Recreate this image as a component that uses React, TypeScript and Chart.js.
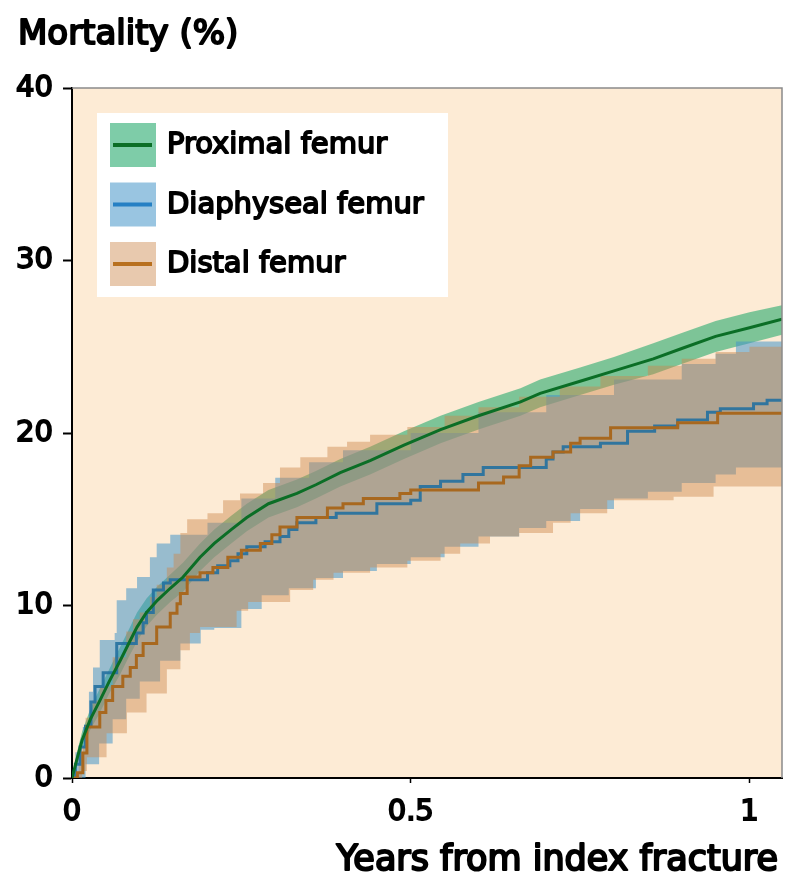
import React, { useEffect, useRef } from "react";
import { Chart, registerables } from "chart.js";

Chart.register(...registerables);

const FONT = "'DejaVu Sans', 'Liberation Sans', sans-serif";

// ---- axis / labels ----
const xTicks = [0, 0.5, 1];
const yTicks = [0, 10, 20, 30, 40];
const xMax = 1.048;
const yTitle = "Mortality (%)";
const xTitle = "Years from index fracture";
const seriesNames = ["Proximal femur", "Diaphyseal femur", "Distal femur"];

// ---- Proximal femur (green) ----
const proxT = [0, 0.008, 0.015, 0.027, 0.04, 0.055, 0.071, 0.085, 0.096, 0.11, 0.126, 0.145, 0.164, 0.189, 0.21, 0.235, 0.258, 0.29, 0.332, 0.36, 0.396, 0.44, 0.49, 0.544, 0.6, 0.662, 0.691, 0.75, 0.8, 0.858, 0.9, 0.95, 1.0, 1.048];
const proxMean = [0, 1.2, 2.2, 3.4, 4.4, 5.6, 6.8, 7.9, 8.75, 9.6, 10.3, 11.0, 11.65, 12.8, 13.6, 14.4, 15.1, 15.9, 16.5, 17.0, 17.7, 18.4, 19.3, 20.2, 21.0, 21.8, 22.3, 23.0, 23.6, 24.3, 24.9, 25.6, 26.1, 26.6];
const proxUpper = [0, 1.6, 2.7, 4.0, 5.1, 6.3, 7.6, 8.7, 9.6, 10.4, 11.1, 11.8, 12.5, 13.6, 14.4, 15.2, 15.9, 16.7, 17.3, 17.8, 18.5, 19.2, 20.1, 21.0, 21.8, 22.6, 23.1, 23.8, 24.4, 25.2, 25.8, 26.5, 27.0, 27.4];
const proxLower = [0, 0.8, 1.7, 2.8, 3.7, 4.9, 6.0, 7.1, 7.9, 8.8, 9.5, 10.2, 10.8, 12.0, 12.8, 13.6, 14.3, 15.1, 15.7, 16.2, 16.9, 17.6, 18.5, 19.4, 20.2, 21.0, 21.5, 22.2, 22.8, 23.4, 24.0, 24.7, 25.2, 25.7];

// ---- Diaphyseal femur (blue) ----
const diaT = [0, 0.005, 0.012, 0.02, 0.028, 0.034, 0.046, 0.066, 0.095, 0.105, 0.11, 0.12, 0.135, 0.145, 0.2, 0.215, 0.233, 0.245, 0.258, 0.285, 0.307, 0.32, 0.332, 0.36, 0.39, 0.45, 0.5, 0.514, 0.544, 0.577, 0.607, 0.7, 0.71, 0.725, 0.78, 0.82, 0.86, 0.894, 0.938, 0.957, 1.006, 1.026, 1.048];
const diaMean = [0, 0.8, 1.8, 3.0, 4.4, 5.3, 6.1, 7.8, 8.4, 9.0, 9.6, 10.9, 11.3, 11.5, 11.9, 12.3, 12.6, 13.0, 13.4, 13.7, 14.0, 14.4, 14.8, 15.1, 15.35, 15.9, 16.1, 16.9, 17.2, 17.6, 18.0, 18.5, 18.9, 19.2, 19.4, 20.1, 20.4, 20.75, 21.2, 21.4, 21.7, 21.9, 21.9];
const diaUpT = [0, 0.005, 0.016, 0.025, 0.031, 0.041, 0.063, 0.066, 0.08, 0.096, 0.115, 0.125, 0.145, 0.2, 0.25, 0.3, 0.35, 0.4, 0.5, 0.6, 0.7, 0.8, 0.9, 0.95, 0.98, 1.048];
const diaUpper = [0, 1.5, 2.95, 5.0, 6.4, 8.0, 8.4, 10.3, 11.0, 11.65, 12.8, 13.6, 14.1, 14.8, 16.2, 17.4, 18.3, 19.0, 20.0, 21.2, 22.2, 23.1, 24.0, 24.6, 25.3, 25.4];
const diaLoT = [0, 0.02, 0.04, 0.06, 0.08, 0.1, 0.13, 0.16, 0.19, 0.21, 0.25, 0.28, 0.32, 0.36, 0.4, 0.45, 0.5, 0.55, 0.6, 0.66, 0.7, 0.75, 0.8, 0.85, 0.9, 0.95, 0.98, 1.048];
const diaLower = [0, 0.8, 2.0, 3.4, 4.6, 5.6, 6.8, 7.8, 8.6, 8.7, 9.8, 10.6, 11.0, 11.6, 12.0, 12.4, 12.8, 13.4, 14.0, 14.5, 14.9, 15.6, 16.2, 16.6, 17.1, 17.6, 18.0, 18.0];

// ---- Distal femur (orange) ----
const distT = [0, 0.008, 0.016, 0.022, 0.041, 0.05, 0.06, 0.075, 0.086, 0.095, 0.105, 0.125, 0.145, 0.155, 0.16, 0.17, 0.189, 0.208, 0.23, 0.25, 0.278, 0.295, 0.307, 0.332, 0.377, 0.4, 0.43, 0.484, 0.5, 0.6, 0.637, 0.66, 0.677, 0.71, 0.736, 0.75, 0.795, 0.894, 0.953, 1.048];
const distMean = [0, 0.3, 1.45, 2.95, 3.8, 4.5, 5.3, 5.9, 6.4, 7.1, 7.8, 8.75, 9.55, 10.1, 10.7, 11.65, 11.9, 12.2, 12.8, 13.2, 13.6, 14.1, 14.55, 15.1, 15.65, 15.9, 16.2, 16.5, 16.7, 17.1, 17.45, 18.1, 18.6, 18.9, 19.4, 19.7, 20.3, 20.6, 21.15, 21.15];
const distUpT = [0, 0.01, 0.02, 0.03, 0.041, 0.06, 0.08, 0.09, 0.1, 0.115, 0.125, 0.14, 0.15, 0.16, 0.17, 0.2, 0.223, 0.248, 0.282, 0.307, 0.337, 0.377, 0.406, 0.44, 0.495, 0.55, 0.6, 0.66, 0.72, 0.78, 0.85, 0.9, 0.95, 1.0, 1.048];
const distUpper = [0, 1.8, 3.5, 4.5, 5.3, 7.0, 8.5, 9.2, 9.6, 10.5, 11.2, 12.2, 13.0, 14.2, 15.0, 15.35, 16.1, 16.5, 17.1, 18.0, 18.6, 19.2, 19.5, 19.9, 20.35, 21.0, 21.5, 22.1, 22.7, 23.3, 23.9, 24.3, 24.7, 25.0, 25.1];
const distLoT = [0, 0.015, 0.022, 0.051, 0.081, 0.11, 0.14, 0.16, 0.174, 0.189, 0.243, 0.26, 0.322, 0.356, 0.386, 0.44, 0.495, 0.544, 0.573, 0.617, 0.66, 0.71, 0.736, 0.79, 0.888, 0.947, 1.048];
const distLower = [0, 0.4, 1.2, 2.6, 3.8, 4.9, 6.3, 7.4, 8.4, 8.75, 9.7, 10.2, 10.9, 11.5, 11.9, 12.2, 12.6, 13.0, 13.6, 14.0, 14.2, 14.8, 15.35, 16.1, 16.3, 16.9, 16.9];

// ---- styles ----
const PLOT_BG = "#fdebd5";
const lineColors = ["#0b6e26", "rgba(35,112,160,0.9)", "#a8681f"];
const legendLineColors = ["#0b6e26", "#2580c4", "#b8701f"];
const bandColors = ["rgba(40,170,110,0.6)", "rgba(70,150,200,0.55)", "rgba(205,135,75,0.45)"];

const pts = (xs: number[], ys: number[]) => xs.map((x, i) => ({ x, y: ys[i] }));

const drawText = (ctx: any, text: string, x: number, y: number, sw: number) => {
  ctx.lineWidth = sw;
  ctx.lineJoin = "round";
  ctx.strokeText(text, x, y);
  ctx.fillText(text, x, y);
};

const bgPlugin = {
  id: "plotBg",
  beforeDraw(chart: any) {
    const { ctx, chartArea: a } = chart;
    ctx.save();
    ctx.fillStyle = PLOT_BG;
    ctx.fillRect(a.left, a.top, a.right - a.left, a.bottom - a.top);
    ctx.restore();
  },
  afterDraw(chart: any) {
    const { ctx, chartArea: a } = chart;
    ctx.save();
    // thin gray frame on top and right
    ctx.strokeStyle = "#8a8a8a";
    ctx.lineWidth = 1.5;
    ctx.beginPath();
    ctx.moveTo(a.left, a.top);
    ctx.lineTo(a.right, a.top);
    ctx.lineTo(a.right, a.bottom);
    ctx.stroke();

    // legend
    const bx = a.left + 25;
    const by = a.top + 25;
    ctx.fillStyle = "#ffffff";
    ctx.fillRect(bx, by, 351, 184);
    seriesNames.forEach((name, i) => {
      const sy = by + 10 + i * 59.5;
      ctx.fillStyle = bandColors[i];
      ctx.fillRect(bx + 13, sy, 46, 44);
      ctx.strokeStyle = legendLineColors[i];
      ctx.lineWidth = 4;
      ctx.beginPath();
      ctx.moveTo(bx + 16, sy + 22);
      ctx.lineTo(bx + 55, sy + 22);
      ctx.stroke();
      ctx.fillStyle = "#000";
      ctx.strokeStyle = "#000";
      ctx.font = `29px ${FONT}`;
      ctx.textAlign = "left";
      ctx.textBaseline = "alphabetic";
      drawText(ctx, name, bx + 70, sy + 30, 1.8);
    });

    // axis titles
    ctx.fillStyle = "#000";
    ctx.strokeStyle = "#000";
    ctx.font = `34px ${FONT}`;
    ctx.textAlign = "left";
    ctx.textBaseline = "alphabetic";
    drawText(ctx, yTitle, 10, 36, 2.1);
    ctx.font = `35px ${FONT}`;
    ctx.textAlign = "right";
    drawText(ctx, xTitle, a.right - 4, 862, 2.1);
    ctx.restore();
  },
};

export default function App() {
  const ref = useRef<HTMLCanvasElement>(null);
  useEffect(() => {
    if (!ref.current) return;
    const lineDs = (label: string, data: any[], color: string, stepped: boolean, width: number) => ({
      label,
      data,
      borderColor: color,
      backgroundColor: color,
      borderWidth: width,
      pointRadius: 0,
      fill: false,
      stepped,
      tension: 0,
    });
    const bandDs = (label: string, data: any[], color: string, stepped: boolean, fill: any) => ({
      label,
      data,
      borderColor: "rgba(0,0,0,0)",
      backgroundColor: color,
      borderWidth: 0,
      pointRadius: 0,
      fill,
      stepped,
      tension: 0,
    });
    const chart = new Chart(ref.current, {
      type: "line",
      data: {
        datasets: [
          lineDs(seriesNames[0], pts(proxT, proxMean), lineColors[0], false, 3), // 0
          lineDs(seriesNames[2], pts(distT, distMean), lineColors[2], true, 3), // 1
          lineDs(seriesNames[1], pts(diaT, diaMean), lineColors[1], true, 3), // 2
          bandDs("distal lower", pts(distLoT, distLower), bandColors[2], true, "+1"), // 3
          bandDs("distal upper", pts(distUpT, distUpper), bandColors[2], true, false), // 4
          bandDs("diaphyseal lower", pts(diaLoT, diaLower), bandColors[1], true, "+1"), // 5
          bandDs("diaphyseal upper", pts(diaUpT, diaUpper), bandColors[1], true, false), // 6
          bandDs("proximal lower", pts(proxT, proxLower), bandColors[0], false, "+1"), // 7
          bandDs("proximal upper", pts(proxT, proxUpper), bandColors[0], false, false), // 8
        ] as any,
      },
      options: {
        animation: false,
        responsive: false,
        devicePixelRatio: 1,
        parsing: false as any,
        layout: { padding: { top: 80, right: 8, left: 0, bottom: 0 } },
        plugins: {
          legend: { display: false },
          tooltip: { enabled: false },
          title: { display: false },
        },
        scales: {
          x: {
            type: "linear",
            min: 0,
            max: xMax,
            afterFit: (s: any) => {
              s.height = 97;
            },
            afterBuildTicks: (s: any) => {
              s.ticks = xTicks.map((v) => ({ value: v }));
            },
            grid: {
              drawOnChartArea: false,
              drawTicks: true,
              tickLength: 5,
              tickWidth: 1.5,
              tickColor: "#000",
            },
            border: { display: true, color: "#000", width: 2 },
            ticks: {
              autoSkip: false,
              maxRotation: 0,
              padding: 12,
              color: "#000",
              font: { family: FONT, size: 29 },
              textStrokeColor: "#000",
              textStrokeWidth: 1.8,
              callback: (v: any) => String(v),
            } as any,
          },
          y: {
            type: "linear",
            min: 0,
            max: 40,
            afterFit: (s: any) => {
              s.width = 64;
            },
            afterBuildTicks: (s: any) => {
              s.ticks = yTicks.map((v) => ({ value: v }));
            },
            grid: {
              drawOnChartArea: false,
              drawTicks: true,
              tickLength: 9,
              tickWidth: 2,
              tickColor: "#000",
            },
            border: { display: true, color: "#000", width: 2 },
            ticks: {
              padding: 10,
              color: "#000",
              font: { family: FONT, size: 29 },
              textStrokeColor: "#000",
              textStrokeWidth: 1.8,
              callback: (v: any) => String(v),
            } as any,
          },
        },
      },
      plugins: [bgPlugin],
    } as any);
    return () => chart.destroy();
  }, []);
  return (
    <div style={{ width: 782, height: 867 }}>
      <canvas ref={ref} width={782} height={867} style={{ display: "block" }} />
    </div>
  );
}
